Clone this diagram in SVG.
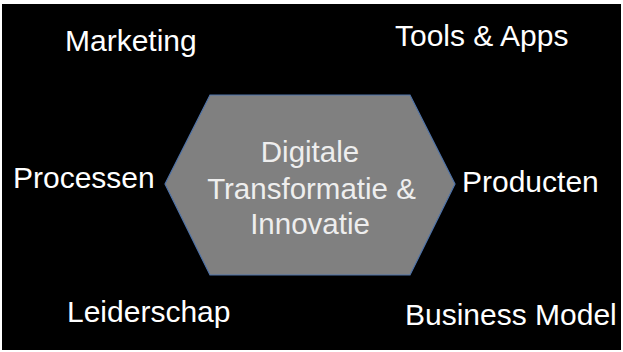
<svg xmlns="http://www.w3.org/2000/svg" width="623" height="352" viewBox="0 0 623 352">
<style>
.lbl{font-family:"Liberation Sans",Arial,Helvetica,sans-serif;font-size:30px;fill:#ffffff}
.ctr{font-family:"Liberation Sans",Arial,Helvetica,sans-serif;font-size:29.5px;fill:#eeeeee;text-anchor:middle}
</style>
<rect x="0" y="0" width="623" height="352" fill="#ffffff"/>
<rect x="2" y="4" width="619" height="346" fill="#000000"/>
<g id="center">
<polygon points="210,95 410,95 455,184 410,275 210,275 165,184" fill="#808080" stroke="#4f73a8" stroke-width="1.2"/>
<text class="ctr" x="310" y="162">Digitale</text>
<text class="ctr" x="311.5" y="199">Transformatie &amp;</text>
<text class="ctr" x="310" y="234">Innovatie</text>
</g>
<g id="marketing"><text class="lbl" x="65" y="51">Marketing</text></g>
<g id="tools"><text class="lbl" x="395" y="46">Tools &amp; Apps</text></g>
<g id="processen"><text class="lbl" x="13" y="188">Processen</text></g>
<g id="producten"><text class="lbl" x="462" y="192">Producten</text></g>
<g id="leiderschap"><text class="lbl" x="67" y="322">Leiderschap</text></g>
<g id="business"><text class="lbl" x="405" y="325">Business Model</text></g>
<g id="connectors"></g>
</svg>
